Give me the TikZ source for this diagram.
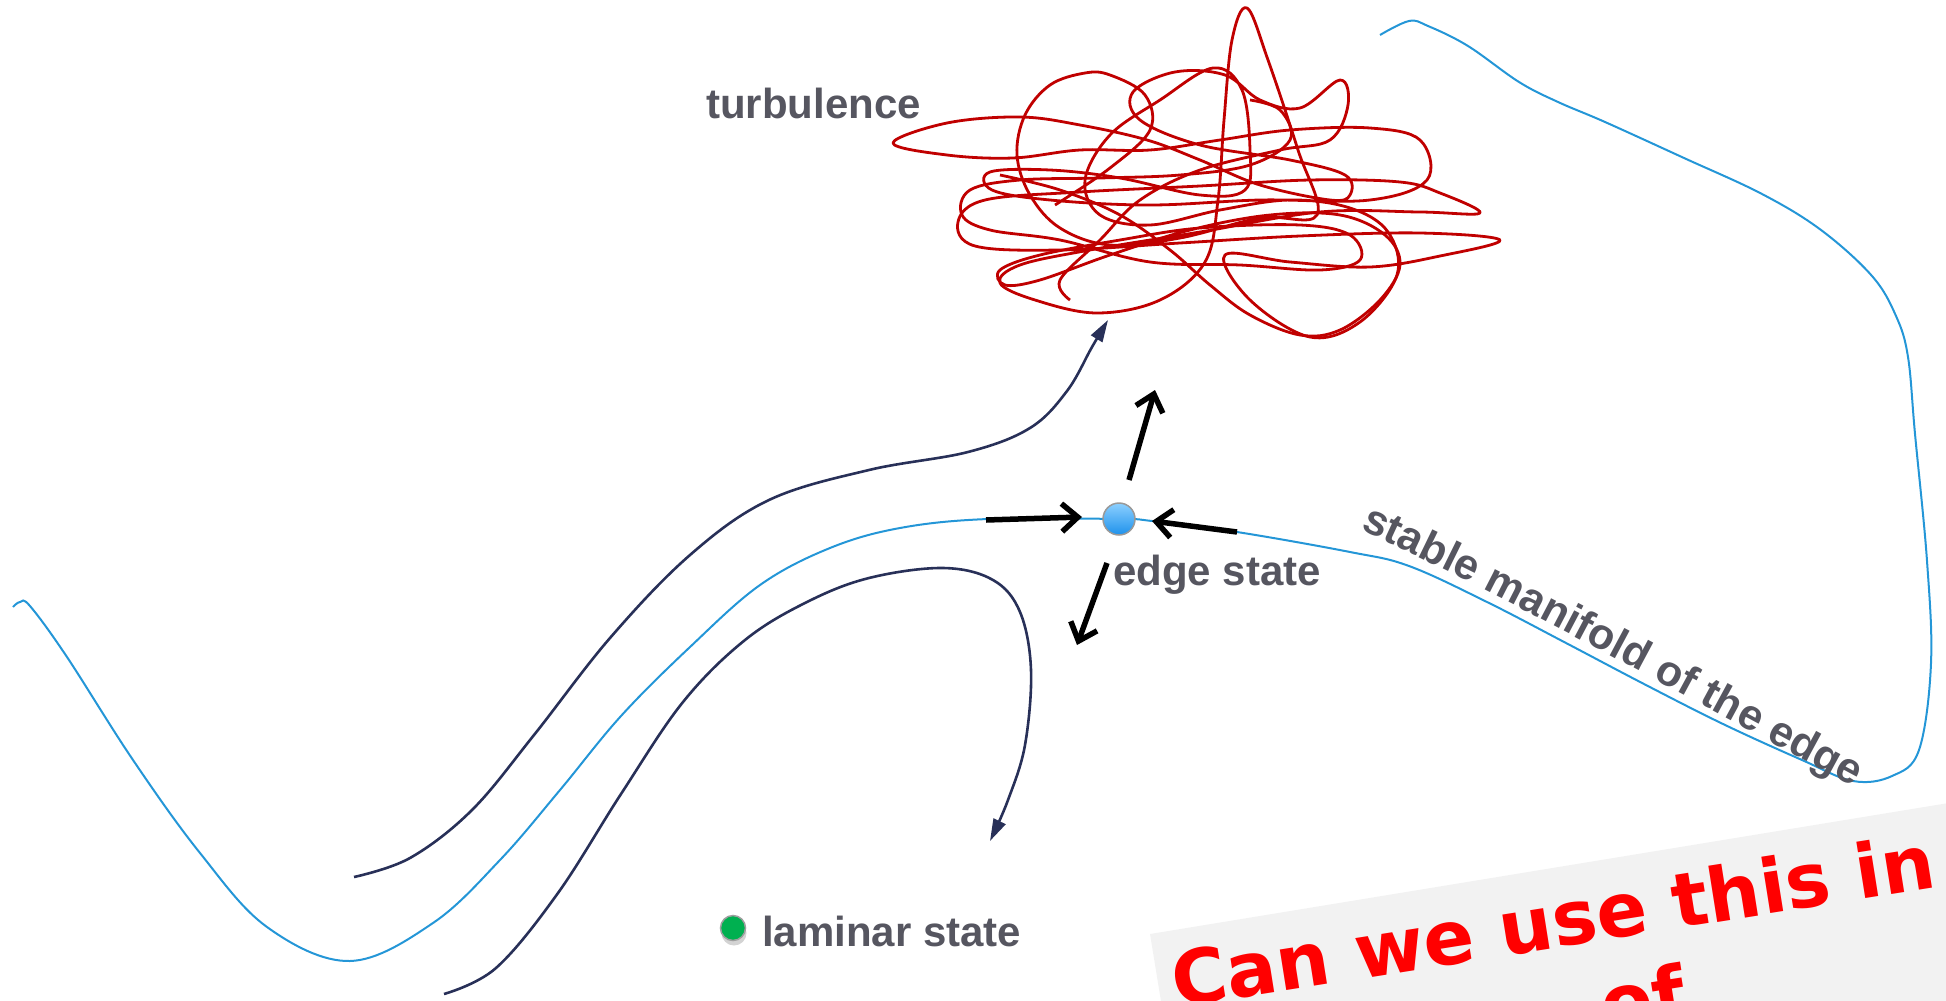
\documentclass[tikz,border=0pt]{standalone}
\usepackage{fontspec}
\newfontfamily\lab{Liberation Sans}
\newfontfamily\redf{DejaVu Sans}
\usetikzlibrary{arrows.meta,decorations.text,shadows}
\definecolor{txt}{RGB}{86,86,96}
\definecolor{manblue}{RGB}{36,150,215}
\definecolor{navy}{RGB}{40,48,88}
\definecolor{turbred}{RGB}{192,0,0}
\definecolor{lamgreen}{RGB}{0,176,80}
\definecolor{boxgray}{RGB}{242,242,242}
\definecolor{esTop}{RGB}{140,208,255}
\definecolor{esBot}{RGB}{30,145,235}
\begin{document}
\begin{tikzpicture}[x=1pt,y=-1pt,
  manif/.style={draw=manblue, line width=2pt},
  traj/.style={draw=navy, line width=2.6pt, -{Triangle[length=22pt,width=13pt]}},
  flow/.style={draw=black, line width=5.5pt, -{Straight Barb[length=16pt,width=28pt]}},
  turb/.style={draw=turbred, line width=2.8pt, line join=round},
  lbl/.style={font=\lab\fontsize{42}{50}\selectfont\bfseries, text=txt, inner sep=0pt},
  question/.style={font=\redf\fontsize{75}{90}\selectfont\bfseries, text=red, inner sep=0pt, rotate=9},
]
\useasboundingbox (0,0) rectangle (1946,1001);
\clip (0,0) rectangle (1946,1001);

% stable manifold of the edge state
\draw[manif] plot[smooth, tension=0.6] coordinates {
 (13,607) (20,602) (30,606) (67,657) (133,760) (200,853) (267,927) (350,961)
 (433,923) (500,860) (560,790) (621,716) (690,647) (760,585) (830,548) (900,528)
 (988,519) (1119,519) (1152,521) (1237,532) (1350,552) (1409,566) (1487,602)
 (1566,643) (1644,684) (1723,724) (1802,760) (1853,781) (1892,776) (1919,750)
 (1931,663) (1927,561) (1915,434) (1908,357) (1896,316) (1872,276) (1821,230)
 (1762,194) (1684,158) (1605,122) (1558,102) (1519,82) (1468,46) (1428,26)
 (1409,21) (1380,35)};

% label along the manifold
\path[decorate, decoration={text along path, text align=left,
  text={|\lab\fontsize{43}{43}\selectfont\bfseries|stable manifold of the edge},
  text color=txt}]
  (1360,530) .. controls (1500,592) and (1700,705) .. (1900,812);

% turbulence scribble
\draw[turb] plot[smooth, tension=0.6] coordinates {
(1055,205) (1110,168) (1150,130) (1145,95) (1110,75) (1085,73) (1050,85) (1025,115)
(1017,155) (1030,195) (1060,228) (1110,245) (1180,238) (1260,218) (1317,215) (1298,150)
(1268,60) (1247,8) (1232,40) (1224,120) (1218,200) (1205,262) (1160,300) (1097,313)
(1035,300) (1000,283) (1020,265) (1090,250) (1200,232) (1320,212) (1420,212) (1480,213)
(1440,193) (1400,182) (1310,180) (1200,186) (1080,192) (985,200) (958,222) (975,246)
(1060,250) (1180,243) (1300,236) (1420,233) (1500,240) (1440,256) (1370,267) (1290,262)
(1225,255) (1250,300) (1310,337) (1360,322) (1397,275) (1388,232) (1350,208) (1290,200)
(1220,210) (1150,225) (1100,215) (1085,180) (1110,135) (1160,100) (1213,68) (1242,90)
(1250,150) (1245,190) (1200,195) (1120,178) (1050,170) (990,172) (992,190) (1050,200)
(1150,205) (1260,200) (1370,200) (1427,180) (1420,140) (1370,128) (1290,130) (1220,140)
(1150,150) (1080,150) (1013,158) (947,155) (893,143) (947,123) (1020,117) (1080,125)
(1147,140) (1200,160) (1260,185) (1330,200) (1350,195) (1345,175) (1290,160) (1200,145)
(1140,120) (1133,92) (1175,72) (1225,75) (1260,100) (1300,108) (1340,80) (1348,105)
(1330,140) (1280,150) (1200,170) (1140,200) (1100,240) (1060,280) (1070,300)};
\draw[turb] plot[smooth, tension=0.6] coordinates {
(1000,175) (1060,190) (1120,215) (1170,250) (1210,285) (1250,315) (1300,335) (1340,330)
(1380,300) (1400,265) (1385,235) (1340,215) (1270,215) (1190,230) (1110,255) (1040,280)
(1005,285) (1000,270) (1040,255) (1120,240) (1200,228) (1300,225) (1350,235) (1360,260)
(1320,270) (1240,265) (1150,262) (1060,240) (990,230) (962,215) (970,190) (1020,180)
(1100,178) (1180,175) (1250,165) (1290,140) (1280,110) (1250,100)};

% labels
\node[lbl, anchor=base west] (turbl) at (706,118) {turbulence};
\node[lbl, anchor=base west] (esl) at (1113,585) {edge state};
\node[lbl, anchor=base west] (laml) at (762,946) {laminar state};

% trajectories
\coordinate (d1s) at (354,877);
\coordinate (d1e) at (1108,320);
\coordinate (d2s) at (444,994);
\coordinate (d2e) at (990,841);
\draw[traj] plot[smooth, tension=0.6] coordinates {
 (d1s) (410,858) (472,810) (534,735) (610,638) (690,555) (769,500) (869,470)
 (968,452) (1030,428) (1067,391) (1092,347) (d1e)};
\draw[traj] plot[smooth, tension=0.6] coordinates {
 (d2s) (496,968) (558,893) (621,794) (683,702) (745,640) (807,602) (869,578)
 (943,568) (993,580) (1020,612) (1031,670) (1025,745) (1008,800) (d2e)};

% edge state and laminar state
\node[circle, minimum size=32pt, inner sep=0pt, draw=gray!80, line width=1.5pt,
      top color=esTop, bottom color=esBot] (es) at (1119,519) {};
\node[circle, minimum size=25pt, inner sep=0pt, draw=gray!75, line width=1.5pt,
      fill=lamgreen, drop shadow={shadow xshift=1pt, shadow yshift=-5pt, opacity=0.35}] (lam) at (733,928) {};

% local flow arrows at the edge state
\coordinate (fl1) at (986,520);
\coordinate (fl1e) at (1082,517);
\coordinate (fr1) at (1237,532);
\coordinate (fr1e) at (1152,521);
\coordinate (fu1) at (1129,480);
\coordinate (fu1e) at (1155,390);
\coordinate (fd1) at (1107,563);
\coordinate (fd1e) at (1077,645);
\draw[flow] (fl1) -- (fl1e);
\draw[flow] (fr1) -- (fr1e);
\draw[flow] (fu1) -- (fu1e);
\draw[flow] (fd1) -- (fd1e);

% question box
\fill[boxgray] (1150,934) -- (2040,788) -- (2090,1100) -- (1200,1240) -- cycle;
\node[question, anchor=base west] (q1) at (1176,1008) {Can we use this in};
\node[question, anchor=base west] (q2) at (1605,1032) {of};
\end{tikzpicture}
\end{document}
